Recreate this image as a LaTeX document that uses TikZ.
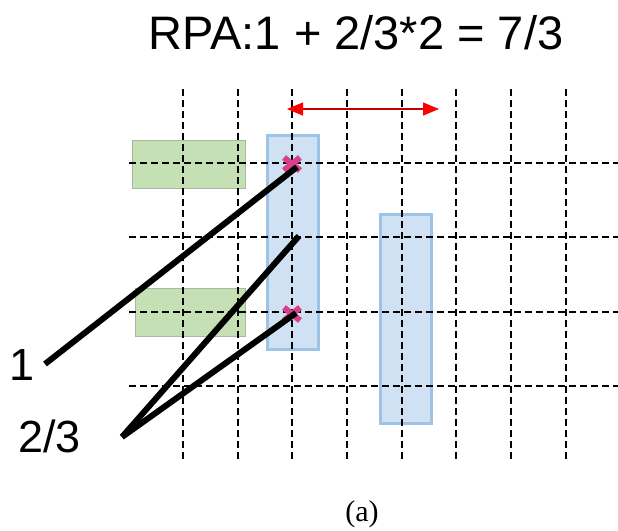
\documentclass[tikz,border=0pt]{standalone}
\usepackage{fontspec}
\setmainfont{Liberation Serif}
\newfontfamily\arialf{Liberation Sans}
\usetikzlibrary{arrows.meta,calc}
\definecolor{gfill}{HTML}{C5E0B4}
\definecolor{gline}{HTML}{A9B8A0}
\definecolor{bfill}{HTML}{CFE1F2}
\definecolor{bline}{HTML}{9DC3E6}
\definecolor{xmag}{HTML}{D9408A}
\definecolor{darr}{HTML}{C00000}
\tikzset{
  gridline/.style={black, line width=2.6pt, dash pattern=on 7pt off 4pt},
  greenbox/.style={fill=gfill, draw=gline, line width=0.8pt},
  bluebox/.style={fill=bfill, draw=bline, line width=3.5pt},
  xmark/.style={xmag, line width=6pt},
  thick line/.style={black, line width=6pt},
  lbl/.style={font=\arialf\fontsize{45}{50}\selectfont, inner sep=0pt},
}
\begin{document}
\begin{tikzpicture}[x=1pt,y=-1pt]
\useasboundingbox (0,0) rectangle (618,530);
% rectangles
\draw[greenbox] (132,140) rectangle (245,188);
\draw[greenbox] (135,288) rectangle (245,336);
\draw[bluebox] (267.5,135.5) rectangle (318.5,349.5);
\draw[bluebox] (380.5,214.5) rectangle (431.5,423.5);
% grid
\foreach \x in {183,238,292,347,402,456,511,566}
  \draw[gridline] (\x,89) -- (\x,460);
\foreach \y in {163,237,312,386}
  \draw[gridline] (129,\y) -- (618,\y);
% arrow
\coordinate (al) at (287,109);
\coordinate (ar) at (439,109);
\draw[darr, line width=1.3pt, {Triangle[length=16pt,width=13pt,color=red]}-{Triangle[length=16pt,width=13pt,color=red]}] (al) -- (ar);
% crosses
\coordinate (c1) at (292,164);
\coordinate (c2) at (292,314);
\foreach \c in {c1,c2}{
  \draw[xmark] ($(\c)+(-8,-6.5)$) -- ($(\c)+(8,6.5)$);
  \draw[xmark] ($(\c)+(-8,6.5)$) -- ($(\c)+(8,-6.5)$);
}
% black lines
\coordinate (e1) at (45,364);
\coordinate (t1) at (297,167);
\coordinate (e2) at (122,437);
\coordinate (t2) at (299,236);
\coordinate (t3) at (296,313);
\draw[thick line] (e1) -- (t1);
\draw[thick line] (e2) -- (t2);
\draw[thick line] (e2) -- (t3);
% texts
\node[font=\arialf\fontsize{47}{52}\selectfont, anchor=base, inner sep=0pt] (title) at (356,49) {RPA:1 + 2/3*2 = 7/3};
\node[lbl, anchor=base west] (one) at (9,380) {1};
\node[lbl, anchor=base west] (twothird) at (18,452) {2/3};
\node[font=\fontsize{30}{33}\selectfont, anchor=base, inner sep=0pt] (cap) at (362,521) {(a)};
\end{tikzpicture}
\end{document}
